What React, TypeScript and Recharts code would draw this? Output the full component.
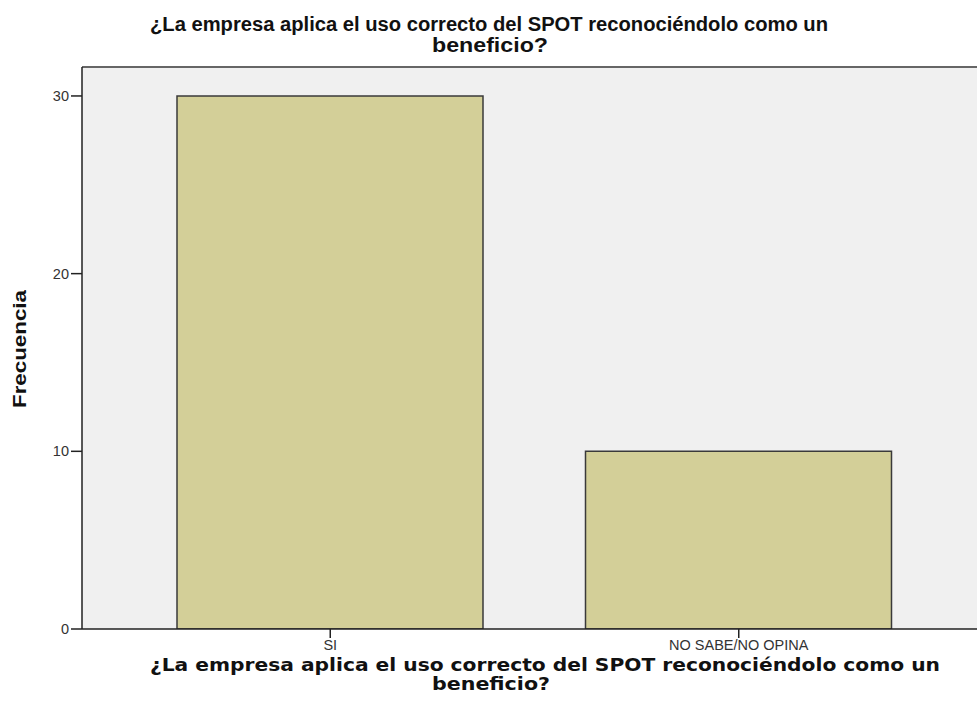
import React from 'react';
import { BarChart, Bar, XAxis, YAxis, CartesianGrid, ReferenceLine } from 'recharts';

const categories = ['SI', 'NO SABE/NO OPINA'];
const frequencies = [30, 10];
const yTicks = [0, 10, 20, 30];
const yMax = 31.63;

const titleLine1 = '¿La empresa aplica el uso correcto del SPOT reconociéndolo como un';
const titleLine2 = 'beneficio?';
const yLabel = 'Frecuencia';

const data = categories.map((c, i) => ({ name: c, value: frequencies[i] }));

export default function App() {
  return (
    <div style={{ position: 'absolute', left: 0, top: 0, width: 977, height: 718, background: '#fff' }}>
      <BarChart
        width={977}
        height={718}
        data={data}
        margin={{ top: 67, right: 0, left: 32, bottom: 59 }}
      >
        <CartesianGrid horizontal={false} vertical={false} fill="#f0f0f0" stroke="none" />
        <XAxis
          dataKey="name"
          height={30}
          padding={{ left: 44, right: 34 }}
          tickSize={9}
          tickMargin={2}
          axisLine={{ stroke: '#222', strokeWidth: 1.5 }}
          tickLine={{ stroke: '#222', strokeWidth: 1.5 }}
          tick={{ fill: '#333', fontSize: 14.5, fontFamily: 'Arial, "Liberation Sans", sans-serif' }}
        />
        <YAxis
          width={50}
          domain={[0, yMax]}
          ticks={yTicks}
          allowDataOverflow
          tickSize={11}
          tickMargin={2}
          axisLine={{ stroke: '#222', strokeWidth: 1.5 }}
          tickLine={{ stroke: '#222', strokeWidth: 1.5 }}
          tick={{ fill: '#333', fontSize: 14.5, fontFamily: 'Arial, "Liberation Sans", sans-serif' }}
        />
        <ReferenceLine y={yMax} stroke="#666" strokeWidth={2} ifOverflow="extendDomain" />
        <Bar
          dataKey="value"
          fill="#d3cf98"
          stroke="#3a3a3a"
          strokeWidth={1.5}
          barSize={306}
          isAnimationActive={false}
        />
      </BarChart>
      <svg
        width={977}
        height={718}
        style={{ position: 'absolute', left: 0, top: 0, pointerEvents: 'none' }}
      >
        <g fontFamily='"Liberation Sans", Arial, sans-serif' fontWeight="bold" fill="#111">
          <text x={489} y={31} fontSize={20} textAnchor="middle" textLength={678} lengthAdjust="spacingAndGlyphs">{titleLine1}</text>
          <text x={490} y={52} fontSize={21} textAnchor="middle" textLength={116} lengthAdjust="spacingAndGlyphs">{titleLine2}</text>
        </g>
        <g fontFamily='"DejaVu Sans", Verdana, sans-serif' fontWeight="bold" fill="#111">
          <text x={545} y={671} fontSize={17} textAnchor="middle" textLength={790} lengthAdjust="spacingAndGlyphs">{titleLine1}</text>
          <text x={491} y={690} fontSize={17} textAnchor="middle" textLength={118} lengthAdjust="spacingAndGlyphs">{titleLine2}</text>
        </g>
        <text
          x={20}
          y={349}
          transform="rotate(-90 20 349)"
          fontFamily='"Liberation Sans", Arial, sans-serif'
          fontWeight="bold"
          fontSize={18}
          fill="#111"
          textAnchor="middle"
          dominantBaseline="central"
          textLength={118}
          lengthAdjust="spacingAndGlyphs"
        >
          {yLabel}
        </text>
      </svg>
    </div>
  );
}
